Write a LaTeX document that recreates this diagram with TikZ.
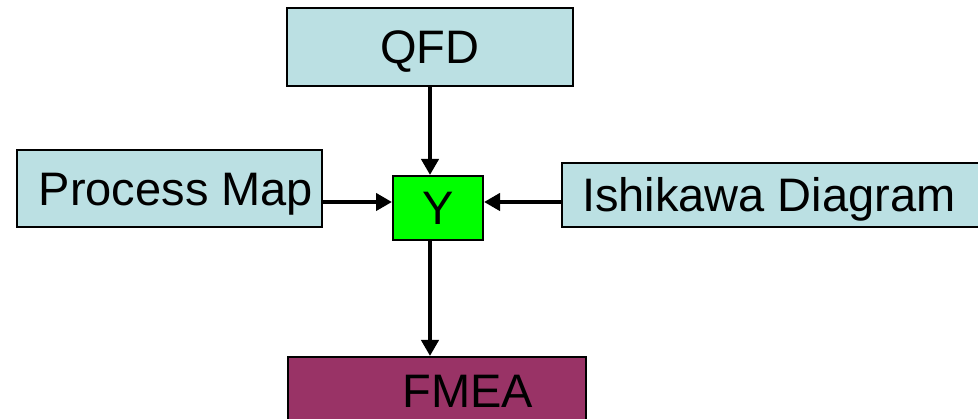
\documentclass[tikz,border=0pt]{standalone}
\usepackage{fontspec}
\setmainfont{Liberation Sans}
\usetikzlibrary{positioning}
\usetikzlibrary{arrows.meta}
\definecolor{paleblue}{HTML}{BBE0E3}
\definecolor{plum}{HTML}{993366}
\tikzset{
    box/.style = {rectangle, draw=black, line width=2pt, inner sep=0pt, text height=33.6pt, text depth=0pt,
                  font=\fontsize{47}{50}\selectfont},
    boxc/.style = {box, fill=paleblue},
    boxg/.style = {box, fill=green},
    boxp/.style = {box, fill=plum},
    link/.style = {-{Triangle[length=16pt,width=17pt]}, line width=4.5pt, black},
}

\begin{document}
\begin{tikzpicture}[x=1pt,y=-1pt]
\useasboundingbox (0,0) rectangle (978,419);
\node[boxc, minimum width=286, minimum height=78] at (430,47) (qfd) {QFD};
\node[boxc, minimum width=305, minimum height=77] at (169.5,188.5) (pmap) {\hspace*{13pt}Process Map};
\node[boxg, minimum width=90, minimum height=64] at (438,208) (y) {Y};
\node[boxc, anchor=west, inner xsep=20pt, minimum height=64] at (561,195) (ishi) {Ishikawa Diagram\hspace*{20pt}};
\node[boxp, minimum width=298, minimum height=68] at (437,391) (fmea) {\hspace*{62pt}FMEA};

% inputs into Y
\draw[link] (qfd.south) -- (qfd.south |- y.north);
\draw[link] ([yshift=6pt]y.west -| pmap.east) -- ([yshift=6pt]y.west);
\draw[link] ([yshift=6pt]y.east -| ishi.west) -- ([yshift=6pt]y.east);
% output
\draw[link] (qfd.south |- y.south) -- (qfd.south |- fmea.north);

\end{tikzpicture}
\end{document}
